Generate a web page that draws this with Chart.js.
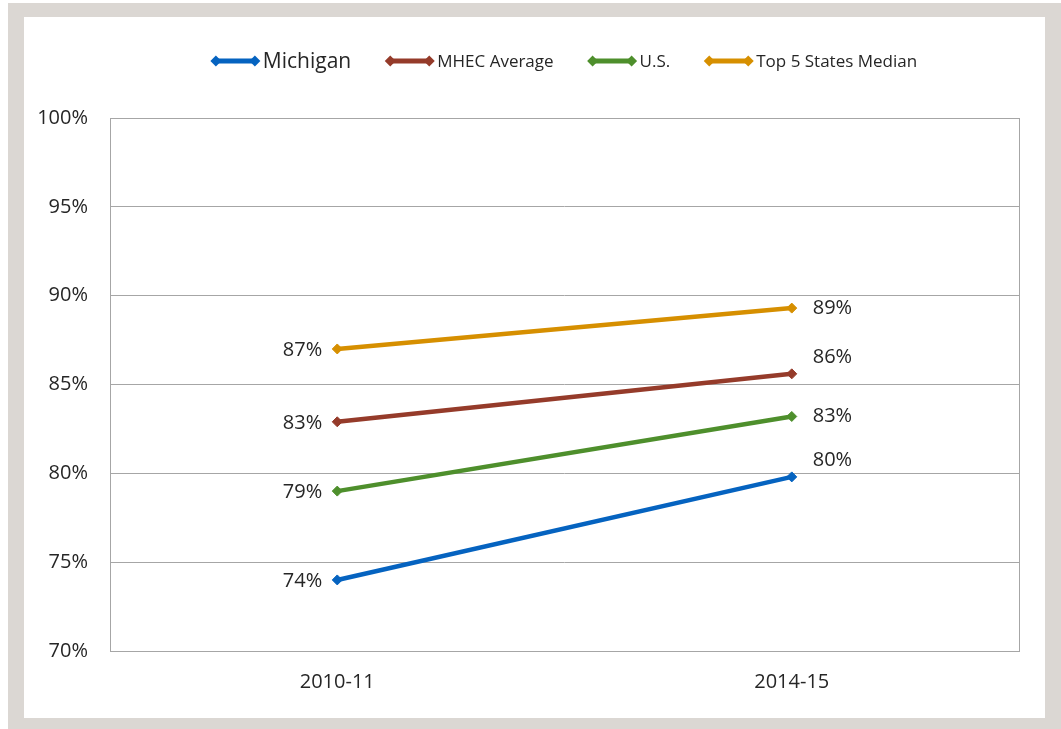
<!DOCTYPE html>
<html>
<head>
<meta charset="utf-8">
<script src="https://cdn.jsdelivr.net/npm/chart.js@4/dist/chart.umd.min.js"></script>
<style>
  html, body { margin: 0; padding: 0; background: #fff; width: 1061px; height: 729px; overflow: hidden; }
  #frame { position: absolute; left: 8px; top: 3px; width: 1053px; height: 726px; background: #dbd7d3; }
  #inner { position: absolute; left: 24px; top: 17px; width: 1021px; height: 701px; background: #fff; }
  #wrap { position: absolute; left: 0; top: 0; width: 1061px; height: 729px; }
</style>
</head>
<body>
<div id="frame"></div>
<div id="inner"></div>
<div id="wrap"><canvas id="c" width="1061" height="729"></canvas></div>
<script>
const categories = ["2010-11", "2014-15"];
const seriesNames = ["Michigan", "MHEC Average", "U.S.", "Top 5 States Median"];
const michigan = [74.0, 79.8];
const mhecAverage = [82.9, 85.6];
const us = [79.0, 83.2];
const top5Median = [87.0, 89.3];
const yTicks = [70, 75, 80, 85, 90, 95, 100];

const colors = ["#0563c0", "#953b2a", "#4e8f2c", "#d68f00"];
const values = [michigan, mhecAverage, us, top5Median];
// vertical offsets of right-hand labels (style only)
const rightLabelDy = [-17, -17, 0, 0];

const FONT = "'Open Sans', 'DejaVu Sans', sans-serif";

const labelPlugin = {
  id: 'valueLabels',
  afterDatasetsDraw(chart) {
    const ctx = chart.ctx;
    ctx.save();
    ctx.font = "20px " + FONT;
    ctx.fillStyle = "#262626";
    ctx.textBaseline = "middle";
    chart.data.datasets.forEach((ds, i) => {
      const meta = chart.getDatasetMeta(i);
      meta.data.forEach((pt, j) => {
        const txt = Math.round(ds.data[j]) + "%";
        if (j === 0) {
          ctx.textAlign = "right";
          ctx.fillText(txt, pt.x - 15, pt.y + 1);
        } else {
          ctx.textAlign = "left";
          ctx.fillText(txt, pt.x + 21, pt.y + rightLabelDy[i]);
        }
      });
    });
    ctx.restore();
  }
};

const boxPlugin = {
  id: 'plotBox',
  beforeDatasetsDraw(chart) {
    const a = chart.chartArea;
    const ctx = chart.ctx;
    ctx.save();
    ctx.strokeStyle = "#a6a6a6";
    ctx.lineWidth = 1;
    ctx.strokeRect(Math.round(a.left) + 0.5, Math.round(a.top) + 0.5, Math.round(a.right - a.left), Math.round(a.bottom - a.top));
    ctx.restore();
  }
};

function diamond(ctx, x, y, r) {
  ctx.beginPath();
  ctx.moveTo(x - r, y); ctx.lineTo(x, y - r); ctx.lineTo(x + r, y); ctx.lineTo(x, y + r);
  ctx.closePath(); ctx.fill();
}

const legendPlugin = {
  id: 'customLegend',
  afterDraw(chart) {
    const ctx = chart.ctx;
    const a = chart.chartArea;
    const fonts = [21, 17, 17, 17];
    const lineLen = 47, gapLT = 4, gapItem = 35;
    ctx.save();
    const widths = chart.data.datasets.map((ds, i) => {
      ctx.font = fonts[i] + "px " + FONT;
      return lineLen + gapLT + ctx.measureText(ds.label).width;
    });
    const total = widths.reduce((s, w) => s + w, 0) + gapItem * (widths.length - 1);
    let x = (a.left + a.right) / 2 - total / 2;
    const y = 61;
    chart.data.datasets.forEach((ds, i) => {
      ctx.strokeStyle = ds.borderColor;
      ctx.fillStyle = ds.borderColor;
      ctx.lineWidth = 5;
      ctx.beginPath(); ctx.moveTo(x + 3, y); ctx.lineTo(x + lineLen - 3, y); ctx.stroke();
      diamond(ctx, x + 4, y, 5.5);
      diamond(ctx, x + lineLen - 4, y, 5.5);
      ctx.font = fonts[i] + "px " + FONT;
      ctx.fillStyle = "#262626";
      ctx.textAlign = "left";
      ctx.textBaseline = "middle";
      ctx.fillText(ds.label, x + lineLen + gapLT, y + 1);
      x += widths[i] + gapItem;
    });
    ctx.restore();
  }
};

new Chart(document.getElementById('c'), {
  type: 'line',
  data: {
    labels: categories,
    datasets: seriesNames.map((name, i) => ({
      label: name,
      data: values[i],
      borderColor: colors[i],
      backgroundColor: colors[i],
      borderWidth: 4.5,
      pointStyle: 'rectRot',
      pointRadius: 5,
      pointHoverRadius: 5,
      pointBackgroundColor: colors[i],
      pointBorderColor: colors[i],
      pointBorderWidth: 1,
      tension: 0,
      fill: false
    }))
  },
  options: {
    responsive: false,
    animation: false,
    devicePixelRatio: 1,
    layout: { padding: { top: 118, right: 42, left: 0, bottom: 0 } },
    plugins: {
      legend: { display: false },
      tooltip: { enabled: false }
    },
    scales: {
      x: {
        offset: true,
        grid: { display: false, drawTicks: false },
        border: { display: false },
        ticks: { color: "#262626", font: { family: FONT, size: 20 }, padding: 19 },
        afterFit(scale) { scale.height = 78; }
      },
      y: {
        min: 70, max: 100,
        afterBuildTicks(scale) { scale.ticks = yTicks.map(v => ({ value: v })); },
        grid: { color: "#a6a6a6", lineWidth: 1, drawTicks: false },
        border: { display: false },
        ticks: {
          color: "#262626",
          font: { family: FONT, size: 20 },
          padding: 22,
          callback: v => v + "%"
        },
        afterFit(scale) { scale.width = 110; }
      }
    }
  },
  plugins: [boxPlugin, labelPlugin, legendPlugin]
});
</script>
</body>
</html>
